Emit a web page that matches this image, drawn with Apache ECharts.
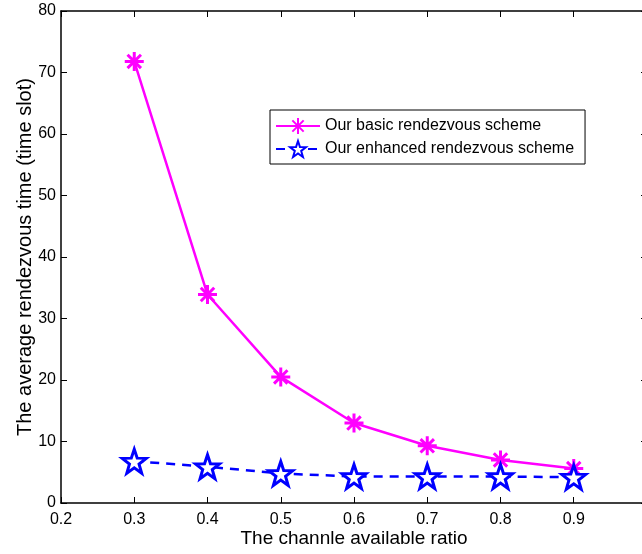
<!DOCTYPE html>
<html><head><meta charset="utf-8">
<script src="https://cdn.jsdelivr.net/npm/echarts@6/dist/echarts.min.js"></script>
<style>html,body{margin:0;padding:0;background:#fff}#c{width:642px;height:554px}</style>
</head><body><div id="c"></div>
<script>
var xValues = [0.3, 0.4, 0.5, 0.6, 0.7, 0.8, 0.9];
var basicScheme = [71.8, 33.9, 20.5, 13.0, 9.3, 7.0, 5.6];
var enhancedScheme = [6.8, 5.9, 4.8, 4.3, 4.3, 4.3, 4.2];
var xTickLabels = ['0.2','0.3','0.4','0.5','0.6','0.7','0.8','0.9','1'];
var yTickLabels = ['0','10','20','30','40','50','60','70','80'];
var seriesNames = ['Our basic rendezvous scheme', 'Our enhanced rendezvous scheme'];

var asterisk = 'path://M0,-10L0,10M-10,0L10,0M-7.07,-7.07L7.07,7.07M-7.07,7.07L7.07,-7.07';
var star = 'path://M0,-10L2.35,-3.24L9.51,-3.09L3.8,1.24L5.88,8.09L0,4L-5.88,8.09L-3.8,1.24L-9.51,-3.09L-2.35,-3.24Z';
var font = 'Liberation Sans, Arial, Helvetica, sans-serif';

var chart = echarts.init(document.getElementById('c'), null, {renderer: 'canvas'});
function xl(v){ var i = Math.round((v - 0.2) * 10); return xTickLabels[i] || ''; }
function yl(v){ var i = Math.round(v / 10); return yTickLabels[i] || ''; }
var axisLine = {show: true, onZero: false, lineStyle: {color: '#000', width: 1.5}};
var axisTick = {show: true, inside: true, length: 6, lineStyle: {color: '#000', width: 1}};
chart.setOption({
  animation: false,
  backgroundColor: '#fff',
  grid: {left: 61, top: 11, right: -5, bottom: 51, containLabel: false, outerBoundsMode: 'none'},
  legend: {
    orient: 'vertical', left: 270, top: 110,
    borderColor: '#000', borderWidth: 1, padding: [7, 11, 6, 5],
    itemGap: 5, itemWidth: 44, itemHeight: 20,
    textStyle: {fontFamily: font, fontSize: 16, color: '#000'},
    data: seriesNames
  },
  xAxis: [{
    type: 'value', min: 0.2, max: 1, interval: 0.1,
    name: 'The channle available ratio', nameLocation: 'middle', nameGap: 26, nameMoveOverlap: false,
    nameTextStyle: {fontFamily: font, fontSize: 19, color: '#000'},
    axisLine: axisLine, axisTick: axisTick,
    axisLabel: {fontFamily: font, fontSize: 16, color: '#000', margin: 9, formatter: xl},
    splitLine: {show: false}
  }, {
    type: 'value', position: 'top', min: 0.2, max: 1, interval: 0.1,
    axisLine: axisLine, axisTick: axisTick,
    axisLabel: {show: false}, splitLine: {show: false}
  }],
  yAxis: [{
    type: 'value', min: 0, max: 80, interval: 10,
    name: 'The average rendezvous time (time slot)', nameLocation: 'middle', nameGap: 26, nameMoveOverlap: false,
    nameTextStyle: {fontFamily: font, fontSize: 20, color: '#000'},
    axisLine: axisLine, axisTick: axisTick,
    axisLabel: {fontFamily: font, fontSize: 16, color: '#000', margin: 5, formatter: yl},
    splitLine: {show: false}
  }, {
    type: 'value', position: 'right', min: 0, max: 80, interval: 10,
    axisLine: axisLine, axisTick: axisTick,
    axisLabel: {show: false}, splitLine: {show: false}
  }],
  series: [{
    name: seriesNames[0], type: 'line',
    data: xValues.map(function(x, i){ return [x, basicScheme[i]]; }),
    symbol: asterisk, symbolSize: 19,
    lineStyle: {color: '#ff00ff', width: 2.5},
    itemStyle: {color: '#ff00ff', borderColor: '#ff00ff', borderWidth: 3}
  }, {
    name: seriesNames[1], type: 'line',
    data: xValues.map(function(x, i){ return [x, enhancedScheme[i]]; }),
    symbol: star, symbolSize: 24,
    lineStyle: {color: '#0000ff', width: 2.5, type: [9, 7]},
    itemStyle: {color: '#ffffff', borderColor: '#0000ff', borderWidth: 3}
  }]
});
</script></body></html>
